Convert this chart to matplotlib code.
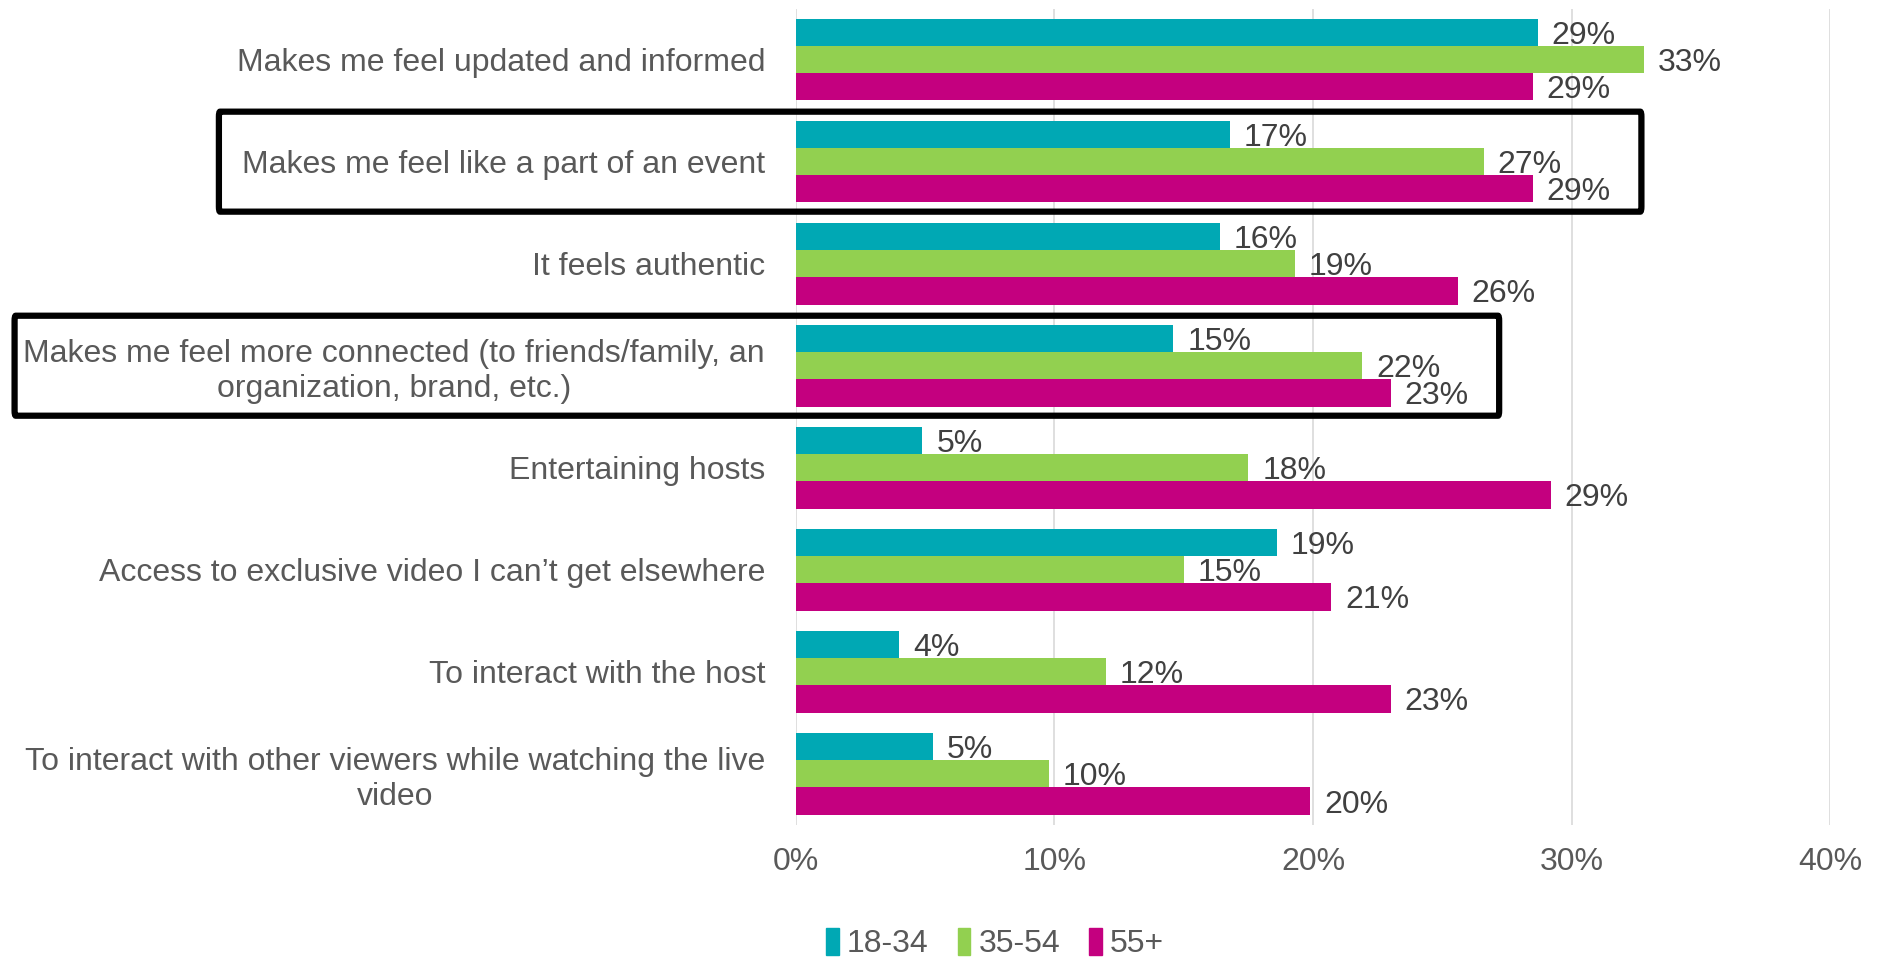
import numpy as np
import matplotlib.pyplot as plt
from matplotlib.patches import FancyBboxPatch, Patch

plt.rcParams['font.family'] = ['Liberation Sans', 'DejaVu Sans']

# Datos del gráfico
categories = [
    "Makes me feel updated and informed",
    "Makes me feel like a part of an event",
    "It feels authentic",
    "Makes me feel more connected (to friends/family, an\norganization, brand, etc.)",
    "Entertaining hosts",
    "Access to exclusive video I can\u2019t get elsewhere",
    "To interact with the host",
    "To interact with other viewers while watching the live\nvideo",
]
series_names = ["18-34", "35-54", "55+"]
age_18_34 = [28.7, 16.8, 16.4, 14.6, 4.9, 18.6, 4.0, 5.3]
age_35_54 = [32.8, 26.6, 19.3, 21.9, 17.5, 15.0, 12.0, 9.8]
age_55_up = [28.5, 28.5, 25.6, 23.0, 29.2, 20.7, 23.0, 19.9]
value_labels = [
    ["29%", "17%", "16%", "15%", "5%", "19%", "4%", "5%"],
    ["33%", "27%", "19%", "22%", "18%", "15%", "12%", "10%"],
    ["29%", "29%", "26%", "23%", "29%", "21%", "23%", "20%"],
]
x_ticks = [0, 10, 20, 30, 40]
x_tick_labels = ["0%", "10%", "20%", "30%", "40%"]
highlighted = [1, 3]  # categorías con recuadro

colors = ["#00A8B4", "#92D050", "#C4007F"]
series = [age_18_34, age_35_54, age_55_up]
fs = 23

fig = plt.figure(figsize=(18.81, 9.58), dpi=100)
ax = fig.add_axes([0.423, 0.139, 0.550, 0.852])

y = np.arange(len(categories))
bar_h = 0.8 / 3
for i, vals in enumerate(series):
    pos = y - 0.4 + bar_h * (i + 0.5)
    ax.barh(pos, vals, height=bar_h, color=colors[i], zorder=3)
    for p, v, lab in zip(pos, vals, value_labels[i]):
        ax.annotate(lab, (v, p), xytext=(10, -2.5), textcoords='offset points',
                    va='center', ha='left', fontsize=fs, color='#404040', zorder=4)

ax.set_xlim(0, 40)
ax.set_ylim(len(categories) - 0.5, -0.5)
ax.set_xticks(x_ticks)
ax.set_xticklabels(x_tick_labels, fontsize=fs, color='#595959')
ax.set_yticks(y)
ax.set_yticklabels(categories, fontsize=fs, color='#595959')
ax.tick_params(axis='both', length=0)
ax.tick_params(axis='x', pad=16)
# Centrar las etiquetas multilínea y alinearlas a la derecha
for t in ax.get_yticklabels():
    t.set_horizontalalignment('right')
    t.set_multialignment('center')
ax.tick_params(axis='y', pad=22)
ax.grid(axis='x', color='#D9D9D9', linewidth=1.2, zorder=0)
for s in ax.spines.values():
    s.set_visible(False)

# Recuadros de resaltado
box_x = {1: (-22.3, 32.7), 3: (-30.2, 27.2)}
for idx in highlighted:
    x0, x1 = box_x[idx]
    rect = FancyBboxPatch((x0, idx - 0.49), x1 - x0, 0.98,
                          boxstyle='round,pad=0,rounding_size=0.05',
                          fill=False, edgecolor='black', linewidth=4.5,
                          clip_on=False, zorder=5, mutation_aspect=1)
    ax.add_patch(rect)

handles = [Patch(color=c, label=n) for c, n in zip(colors, series_names)]
fig.legend(handles=handles, loc='center', bbox_to_anchor=(0.529, 0.015),
           ncol=3, frameon=False, fontsize=fs, handlelength=0.4,
           handleheight=0.9, handletextpad=0.25, columnspacing=0.9,
           labelcolor='#595959')

fig.savefig('out.png', dpi=100)
